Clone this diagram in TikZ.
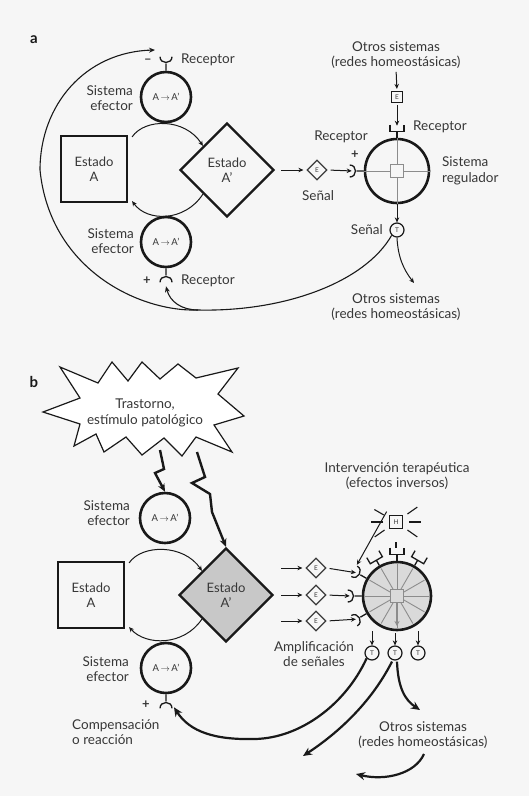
\documentclass[tikz,border=0pt]{standalone}
\usepackage{fontspec}
\setmainfont{Lato}
\usetikzlibrary{arrows.meta,shapes.geometric,calc}
\definecolor{txt}{RGB}{55,55,55}
\definecolor{bg}{RGB}{246,246,246}
\definecolor{ink}{RGB}{25,25,25}
\definecolor{dfill}{RGB}{200,200,200}
\definecolor{cfill}{RGB}{218,218,218}
\definecolor{grayline}{RGB}{140,140,140}
\tikzset{
 recp/.pic={\draw[ink,line width=1.3pt] (0,0)--(0,-7) (-6,-14) .. controls (-6,-6.3) and (6,-6.3) .. (6,-14);
   \coordinate (-cup) at (0,-11); \coordinate (-open) at (0,-18); \coordinate (-cupl) at (-8,-13); \coordinate (-tipr) at (7,-15);},
 recsq/.pic={\draw[ink,line width=1.3pt] (0,0)--(0,-6) (-7,-13)--(-7,-6)--(7,-6)--(7,-13);
   \coordinate (-cup) at (0,-12);},
}
\begin{document}
\begin{tikzpicture}[x=1pt,y=-1pt,
 lbl/.style={text=txt,font=\fontsize{13.5}{15.5}\selectfont,inner sep=0pt,align=center},
 ttl/.style={text=ink,font=\bfseries\fontsize{15}{15}\selectfont,inner sep=0pt},
 effc/.style={circle,draw=ink,line width=2.6pt,minimum size=50pt,inner sep=0pt,text=txt,font=\fontsize{9.5}{10}\selectfont},
 stbox/.style={rectangle,draw=ink,line width=2.2pt,minimum size=66pt,inner sep=0pt,align=center,text=txt,font=\fontsize{13}{15.5}\selectfont},
 stdiam/.style={diamond,draw=ink,line width=2.4pt,minimum size=94pt,inner sep=0pt,align=center,text=txt,font=\fontsize{13}{15.5}\selectfont},
 regc/.style={circle,draw=ink,line width=2.6pt,minimum size=64pt,inner sep=0pt},
 sdiam/.style={diamond,draw=ink!85,line width=1.2pt,minimum size=20pt,inner sep=0pt,text=txt,font=\fontsize{6.5}{6.5}\selectfont},
 ssq/.style={rectangle,draw=ink,line width=1.2pt,minimum size=11pt,inner sep=0pt,text=txt,font=\fontsize{6.5}{6.5}\selectfont},
 tcirc/.style={circle,draw=ink,line width=1.2pt,minimum size=14pt,inner sep=0pt,text=txt,font=\fontsize{6.5}{6.5}\selectfont},
 arr/.style={draw=ink,line width=1pt,-{Stealth[length=5pt,width=4.5pt]}},
 fb/.style={draw=ink,line width=1.1pt,-{Stealth[length=6pt,width=5pt]}},
 barr/.style={draw=ink,line width=2.2pt,-{Stealth[length=9pt,width=8pt]}},
 bolt/.style={draw=ink,line width=2.4pt,line join=miter,-{Stealth[length=8pt,width=7pt]}},
 gl/.style={draw=grayline,line width=0.9pt}
]
\useasboundingbox (0,0) rectangle (529,796);
\fill[bg] (0,0) rectangle (529,796);

% ================= part a =================
\node[ttl] (la) at (34,40) {a};
\node[effc] (ea1) at (166,97) {A\,$\rightarrow$\,A’};
\node[lbl,anchor=east,align=right] (lea1) at (133,98) {Sistema\\efector};
\pic (rca1) at (ea1.north) {recp};
\node[lbl,font=\bfseries\fontsize{13}{13}\selectfont] (mna1) at (148,61) {–};
\node[lbl,anchor=west] (lra1) at (181,60) {Receptor};
\node[stbox] (sa1) at (94,169) {Estado\\A};
\node[stdiam] (sd1) at (227,170) {Estado\\A’};
\node[effc] (ea2) at (166,242) {A\,$\rightarrow$\,A’};
\node[lbl,anchor=east,align=right] (lea2) at (134,241) {Sistema\\efector};
\pic[rotate=180] (rca2) at (ea2.south) {recp};
\node[lbl,font=\bfseries\fontsize{13}{13}\selectfont] (pla2) at (147,281) {+};
\node[lbl,anchor=west] (lra2) at (181,281) {Receptor};
\node[sdiam] (s1) at (317,170) {E};
\node[lbl] (ls1) at (318,196) {Señal};
\node[regc] (r1) at (397,171) {};
\draw[gl] (r1.north) -- (r1.south) (r1.west) -- (r1.east);
\node[rectangle,draw=grayline,fill=bg,line width=0.9pt,minimum size=13pt,inner sep=0pt] (rsq1) at (r1.center) {};
\pic[rotate=90] (rcl1) at (r1.west) {recp};
\node[lbl,font=\bfseries\fontsize{13}{13}\selectfont] (pl1) at (355,155) {+};
\node[lbl] (lrl1) at (341,137) {Receptor};
\pic (rct1) at (r1.north) {recsq};
\node[lbl,anchor=west] (lrt1) at (413,127) {Receptor};
\node[ssq] (e1) at (397,97) {E};
\node[lbl] (ot1) at (396,55) {Otros sistemas\\(redes homeostásicas)};
\node[lbl,anchor=west,align=left] (lr1) at (442,171) {Sistema\\regulador};
\node[tcirc] (t1) at (397,230) {T};
\node[lbl,anchor=east] (lt1) at (383,230) {Señal};
\node[lbl] (ob1) at (396,307) {Otros sistemas\\(redes homeostásicas)};
\coordinate (oa1) at (414,283);
\coordinate (m1) at (198,310);
\coordinate (fbt) at (155,50);

\draw[arr] ([shift={(4,2)}]sa1.north east) .. controls (145,118) and (185,118) .. (sd1.north west);
\draw[arr] (sd1.south west) .. controls (185,222) and (147,222) .. ([shift={(4,-2)}]sa1.south east);
\draw[arr,shorten <=6pt,shorten >=3pt] (sd1.east) -- (s1.west);
\draw[arr,shorten <=3pt,shorten >=1pt] (s1.east) -- (rcl1-cup);
\draw[arr,shorten <=3pt,shorten >=2pt] (ot1.south) -- (e1.north);
\draw[arr,shorten <=2pt,shorten >=0pt] (e1.south) -- (rct1-cup);
\draw[arr] (r1.south) -- (t1.north);
\draw[arr] (t1.south) .. controls (398,258) and (404,270) .. (oa1);
\draw[fb] (t1.south west) .. controls (365,282) and (285,312) .. (m1) .. controls (140,312) and (50,270) .. (40,170) .. controls (40,105) and (85,52) .. (fbt);
\draw[fb] (m1) .. controls (182,310) and (170,302) .. (rca2-open);

% ================= part b =================
\node[ttl] (lb) at (34,382) {b};
\draw[ink,line width=1.2pt,fill=white] (43,412) -- (80,398) -- (60,367) -- (98,383) -- (112,362) -- (128,381) -- (142,362) -- (160,379) -- (178,364) -- (196,378) -- (238,368) -- (218,394) -- (244,416) -- (214,425) -- (232,452) -- (196,437) -- (182,456) -- (164,438) -- (142,455) -- (126,437) -- (104,452) -- (96,434) -- (74,446) -- (80,424) -- cycle;
\node[lbl] (trast) at (145,413) {Trastorno,\\estímulo patológico};
\coordinate (bo1) at (160,450);
\coordinate (bo2) at (197,452);

\node[effc] (ea3) at (165,518) {A\,$\rightarrow$\,A’};
\node[lbl,anchor=east,align=right] (lea3) at (130,513) {Sistema\\efector};
\node[stbox] (sa2) at (91,595) {Estado\\A};
\node[stdiam,fill=dfill] (sd2) at (226,595) {Estado\\A’};
\node[effc] (ea4) at (166,668) {A\,$\rightarrow$\,A’};
\node[lbl,anchor=east,align=right] (lea4) at (129,669) {Sistema\\efector};
\pic[rotate=180] (rca4) at (ea4.south) {recp};
\node[lbl,font=\bfseries\fontsize{13}{13}\selectfont] (pl4) at (146,705) {+};
\node[lbl,anchor=north west,align=left] (comp) at (72,719) {Compensación\\o reacción};

\draw[bolt] (bo1) -- (164,469) -- (155,473) -- (ea3.north);
\draw[bolt] (bo2) -- (205,477) -- (192,483) -- (210,494) -- (212,512) -- (sd2.north);

\draw[arr] ([shift={(4,2)}]sa2.north east) .. controls (142,544) and (184,544) .. (sd2.north west);
\draw[arr] (sd2.south west) .. controls (184,646) and (146,646) .. ([shift={(4,-2)}]sa2.south east);

\node[sdiam] (s2a) at (316,568) {E};
\node[sdiam] (s2b) at (316,595) {E};
\node[sdiam] (s2c) at (316,621) {E};
\coordinate (i2a) at (281,568);
\coordinate (i2c) at (281,621);
\draw[arr,shorten >=3pt] (i2a) -- (s2a.west);
\draw[arr,shorten <=7pt,shorten >=3pt] (sd2.east) -- (s2b.west);
\draw[arr,shorten >=3pt] (i2c) -- (s2c.west);

\node[regc,fill=cfill,minimum size=68pt] (r2) at (397,596) {};
\foreach \a in {0,30,...,330} \draw[gl] (r2.center) -- ($(r2.center)!0.9!(r2.\a)$);
\node[rectangle,draw=grayline,fill=cfill,line width=0.9pt,minimum size=13pt,inner sep=0pt] (rsq2) at (r2.center) {};
\draw[draw=grayline,line width=1.6pt,-{Stealth[length=5pt,width=5pt]}] (rsq2.south) -- ($(r2.center)!0.85!(r2.south)$);
\pic[rotate=60] (rb1) at (r2.150) {recp};
\pic[rotate=90] (rb2) at (r2.180) {recp};
\pic[rotate=120] (rb3) at (r2.210) {recp};
\pic[rotate=30] (rb4) at (r2.120) {recsq};
\pic (rb5) at (r2.90) {recsq};
\pic[rotate=-30] (rb6) at (r2.60) {recsq};
\draw[arr,shorten <=3pt,shorten >=1pt] (s2a.east) -- (rb1-cup);
\draw[arr,shorten <=3pt,shorten >=1pt] (s2b.east) -- (rb2-cup);
\draw[arr,shorten <=3pt,shorten >=1pt] (s2c.east) -- (rb3-cup);

\node[ssq,minimum size=13pt] (h2) at (396,522) {H};
\node[lbl] (interv) at (397,476) {Intervención terapéutica\\(efectos inversos)};
\foreach \a/\r/\s in {90/20/26, 35/14/26, 145/14/26, 0/13/25, 180/13/25, -35/14/26, -150/14/25}
  \draw[ink,line width=1.1pt] ($(h2.center)+(\a:\r)$) -- ($(h2.center)+(\a:\s)$);
\draw[arr] ($(h2.center)+(-132:14)$) -- (rb1-tipr);

\node[tcirc] (t2a) at (372,653) {T};
\node[tcirc] (t2b) at (395,653) {T};
\node[tcirc] (t2c) at (418,653) {T};
\coordinate (d2a) at (372,631);
\coordinate (d2b) at (395,633);
\coordinate (d2c) at (418,631);
\draw[arr] (d2a) -- (t2a.north);
\draw[arr] (d2b) -- (t2b.north);
\draw[arr] (d2c) -- (t2c.north);
\node[lbl] (ampl) at (314,654) {Amplificación\\de señales};

\node[lbl] (ob2) at (423,735) {Otros sistemas\\(redes homeostásicas)};
\coordinate (oa2) at (420,710);
\coordinate (ea2end) at (303,756);
\coordinate (fb4s) at (424,754);
\coordinate (fb4e) at (356,774);
\draw[barr] (t2a.south west) .. controls (345,705) and (300,738) .. (255,739) .. controls (215,740) and (190,732) .. (rca4-cupl);
\draw[barr] ([shift={(-3,1)}]t2b.south) .. controls (370,705) and (335,735) .. (ea2end);
\draw[barr] ([shift={(2,1)}]t2b.south) .. controls (398,688) and (405,700) .. (oa2);
\draw[barr] (fb4s) .. controls (415,774) and (385,781) .. (fb4e);
\end{tikzpicture}
\end{document}
